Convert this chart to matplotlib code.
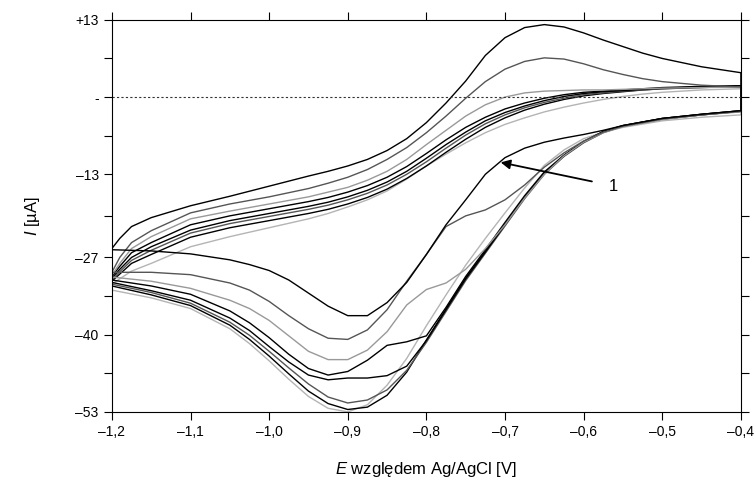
import matplotlib
matplotlib.use("Agg")
import matplotlib.pyplot as plt

plt.rcParams['font.family'] = ['Liberation Sans', 'DejaVu Sans']
plt.rcParams['mathtext.fontset'] = 'custom'
plt.rcParams['mathtext.it'] = 'Liberation Sans:italic'
plt.rcParams['mathtext.rm'] = 'Liberation Sans'

# forward scan (-1.2 -> -0.4 V)
E_fwd = [-1.20, -1.19, -1.175, -1.15, -1.10, -1.05, -1.00, -0.95, -0.925, -0.90, -0.875, -0.85,
         -0.825, -0.80, -0.775, -0.75, -0.725, -0.70, -0.675, -0.65, -0.625, -0.60, -0.575,
         -0.55, -0.525, -0.50, -0.45, -0.40]
fwd_1 = [-25.5, -23.8, -21.8, -20.3, -18.3, -16.7, -15.0, -13.3, -12.5, -11.6, -10.5, -9.0, -7.0, -4.3,
         -1.0, 2.7, 7.0, 10.0, 11.7, 12.2, 11.8, 10.8, 9.6, 8.5, 7.4, 6.5, 5.1, 4.1]
fwd_2 = [-29.5, -27.0, -24.5, -22.5, -19.5, -18.0, -16.8, -15.4, -14.5, -13.5, -12.2, -10.5, -8.5, -6.0,
         -3.2, -0.2, 2.6, 4.7, 6.0, 6.6, 6.4, 5.6, 4.6, 3.8, 3.1, 2.6, 2.0, 1.7]
fwd_3 = [-30.0, -28.0, -25.5, -23.5, -20.5, -19.2, -18.0, -16.8, -16.0, -15.2, -14.0, -12.5, -10.5, -8.0,
         -5.6, -3.2, -1.3, 0.0, 0.7, 1.0, 1.1, 1.2, 1.2, 1.3, 1.4, 1.5, 1.6, 1.7]
fwd_4 = [-30.2, -28.5, -26.2, -24.5, -21.5, -20.0, -18.8, -17.6, -16.9, -16.0, -14.9, -13.5, -11.7, -9.5,
         -7.2, -5.1, -3.4, -2.0, -1.0, -0.2, 0.4, 0.8, 1.0, 1.2, 1.4, 1.6, 1.8, 1.9]
fwd_5 = [-30.5, -29.0, -27.0, -25.2, -22.4, -20.8, -19.6, -18.4, -17.7, -16.8, -15.7, -14.3, -12.5, -10.3,
         -8.0, -5.9, -4.0, -2.6, -1.5, -0.6, 0.1, 0.6, 0.9, 1.1, 1.3, 1.5, 1.7, 1.9]
fwd_6 = [-30.8, -29.4, -27.5, -25.8, -22.9, -21.3, -20.1, -18.9, -18.2, -17.3, -16.2, -14.8, -13.0, -10.9,
         -8.6, -6.4, -4.5, -3.0, -1.8, -0.9, -0.2, 0.4, 0.7, 1.0, 1.2, 1.4, 1.7, 1.8]
fwd_7 = [-31.0, -29.8, -28.0, -26.5, -23.6, -22.0, -20.8, -19.6, -18.9, -18.0, -16.9, -15.5, -13.7, -11.6,
         -9.3, -7.1, -5.1, -3.5, -2.2, -1.2, -0.4, 0.2, 0.6, 0.9, 1.2, 1.4, 1.6, 1.8]
fwd_8 = [-31.5, -30.6, -29.3, -28.0, -25.2, -23.5, -22.0, -20.5, -19.6, -18.5, -17.3, -15.8, -13.8, -11.6,
         -9.6, -7.7, -6.0, -4.6, -3.5, -2.5, -1.7, -1.0, -0.4, 0.1, 0.5, 0.8, 1.2, 1.4]

# reverse scan (-0.4 -> -1.2 V)
E_rev = [-0.40, -0.45, -0.50, -0.55, -0.575, -0.60, -0.625, -0.65, -0.675, -0.70, -0.725, -0.75,
         -0.775, -0.80, -0.825, -0.85, -0.875, -0.90, -0.925, -0.95, -0.975, -1.00, -1.025,
         -1.05, -1.10, -1.15, -1.20]
rev_1 = [-2.3, -2.9, -3.6, -4.8, -5.6, -6.3, -6.9, -7.6, -8.6, -10.2, -13.0, -17.3, -21.5, -26.5,
         -31.2, -34.6, -36.8, -36.8, -35.2, -33.0, -30.8, -29.2, -28.2, -27.4, -26.4, -25.9, -25.7]
rev_2 = [-2.4, -3.0, -3.7, -4.9, -5.9, -7.4, -9.4, -11.8, -14.8, -17.3, -19.0, -20.0, -21.8, -26.5,
         -31.0, -35.8, -39.2, -40.8, -40.6, -39.0, -36.8, -34.4, -32.5, -31.3, -29.9, -29.5, -29.5]
rev_3 = [-2.5, -3.0, -3.8, -5.0, -6.0, -7.6, -9.9, -13.0, -17.0, -21.5, -25.5, -29.0, -31.3, -32.4,
         -35.0, -39.5, -42.6, -44.2, -44.2, -42.8, -40.2, -37.6, -35.6, -34.2, -32.2, -31.0, -30.3]
rev_4 = [-2.3, -2.9, -3.6, -4.8, -5.8, -7.5, -9.8, -12.6, -16.6, -21.1, -25.7, -30.2, -35.4, -40.2,
         -41.2, -41.8, -44.3, -46.2, -46.8, -45.7, -43.3, -40.5, -38.0, -36.0, -33.2, -31.8, -30.8]
rev_5 = [-2.4, -3.0, -3.7, -4.9, -5.9, -7.6, -9.9, -12.9, -16.9, -21.5, -26.1, -30.6, -35.8, -41.0,
         -45.3, -46.9, -47.3, -47.3, -47.6, -46.8, -44.6, -42.0, -39.3, -37.2, -34.2, -32.6, -31.2]
rev_6 = [-2.4, -3.0, -3.7, -4.9, -6.0, -7.7, -10.0, -13.0, -17.1, -21.7, -26.3, -30.9, -36.1, -41.3,
         -46.0, -49.3, -51.0, -51.5, -50.5, -48.3, -45.6, -42.8, -40.1, -37.9, -34.7, -32.9, -31.5]
rev_7 = [-2.3, -2.9, -3.6, -4.8, -5.8, -7.5, -9.8, -12.8, -16.9, -21.4, -26.0, -30.5, -35.7, -40.9,
         -46.3, -50.2, -52.2, -52.6, -51.6, -49.5, -46.6, -43.6, -40.8, -38.4, -35.1, -33.3, -31.8]
rev_8 = [-3.0, -3.4, -4.0, -5.1, -5.9, -7.0, -8.9, -11.5, -15.3, -19.5, -23.8, -28.3, -33.3, -38.5,
         -44.0, -48.5, -51.8, -53.0, -52.4, -50.4, -47.5, -44.4, -41.5, -39.0, -35.6, -33.8, -32.5]

fwd = [fwd_1, fwd_2, fwd_3, fwd_4, fwd_5, fwd_6, fwd_7, fwd_8]
rev = [rev_1, rev_2, rev_3, rev_4, rev_5, rev_6, rev_7, rev_8]
colors = ['black', '#555555', '#999999', 'black', 'black', '#555555', 'black', '#b4b4b4']

x_ticks = [-1.2, -1.1, -1.0, -0.9, -0.8, -0.7, -0.6, -0.5, -0.4]
x_labels = ['–1,2', '–1,1', '–1,0', '–0,9', '–0,8', '–0,7', '–0,6', '–0,5', '–0,4']
y_ticks = [13, 0, -13, -27, -40, -53]
y_labels = ['+13', '-', '–13', '–27', '–40', '–53']
y_minor = [6.5, -6.5, -20, -33.5, -46.5]

fig = plt.figure(figsize=(7.56, 4.84), dpi=100)
ax = fig.add_axes([0.148, 0.149, 0.832, 0.810])

for i in range(len(fwd) - 1, -1, -1):
    ax.plot(E_fwd + E_rev, fwd[i] + rev[i], color=colors[i], lw=1.0)

ax.axhline(0, color='#333333', lw=0.8, ls=(0, (2, 2)))

ax.annotate('', xy=(-0.709, -10.9), xytext=(-0.586, -14.3),
            arrowprops=dict(arrowstyle='-|>', color='black', lw=1.3, mutation_scale=14))
ax.text(-0.568, -15.0, '1', fontsize=12, ha='left', va='center')

ax.set_xlim(-1.2, -0.4)
ax.set_ylim(-53, 13)
ax.set_xticks(x_ticks)
ax.set_xticklabels(x_labels, fontsize=10)
ax.set_yticks(y_ticks)
ax.set_yticklabels(y_labels, fontsize=10)
ax.set_yticks(y_minor, minor=True)
ax.tick_params(axis='both', which='both', direction='out', length=6, width=0.8,
               top=True, right=True, labeltop=False, labelright=False)
for s in ax.spines.values():
    s.set_linewidth(0.8)

ax.set_xlabel(r'$\mathit{E}$ względem Ag/AgCl [V]', fontsize=12, labelpad=15)
ax.set_ylabel(r'$\mathit{I}$ [µA]', fontsize=12, labelpad=24)

fig.savefig('out.png', dpi=100)
